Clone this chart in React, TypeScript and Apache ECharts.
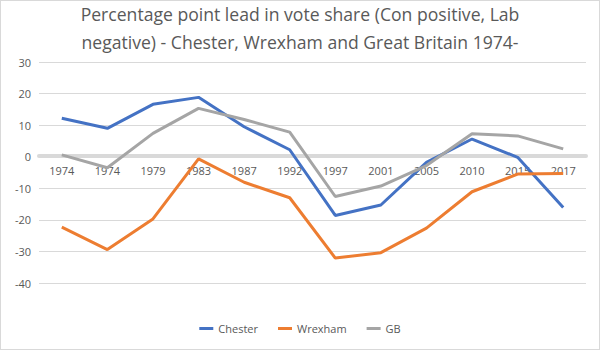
import React, { useEffect, useRef } from "react";
import * as echarts from "echarts";

const years = ["1974", "1974", "1979", "1983", "1987", "1992", "1997", "2001", "2005", "2010", "2015", "2017"];
const chester = [12.2, 9.0, 16.6, 18.8, 9.5, 2.2, -18.6, -15.3, -1.8, 5.6, -0.2, -16.1];
const wrexham = [-22.3, -29.4, -19.7, -0.7, -8.1, -13.0, -32.1, -30.4, -22.6, -11.1, -5.5, -5.3];
const gb = [0.6, -3.5, 7.4, 15.3, 11.8, 7.8, -12.6, -9.3, -2.8, 7.3, 6.6, 2.5];
const seriesNames = ["Chester", "Wrexham", "GB"];
const colors = ["#4472c4", "#ed7d31", "#a5a5a5"];
const titleText = "Percentage point lead in vote share (Con positive, Lab\nnegative) - Chester, Wrexham and Great Britain 1974-";
const yMin = -40;
const yMax = 30;

export default function App() {
  const ref = useRef<HTMLDivElement>(null);
  useEffect(() => {
    document.body.style.margin = "0";
    const chart = echarts.init(ref.current!, null, { renderer: "svg" });
    const font = "'Open Sans', sans-serif";
    const gridTop = 61;
    const gridBottom = 66;
    const plotH = 350 - gridTop - gridBottom;
    const zeroOffset = -(plotH * (0 - yMin)) / (yMax - yMin);
    chart.setOption({
      animation: false,
      backgroundColor: "#ffffff",
      color: colors,
      textStyle: { fontFamily: font },
      title: {
        text: titleText,
        left: "center",
        top: -1,
        padding: 0,
        textStyle: { fontFamily: font, fontSize: 17.6, fontWeight: "normal", color: "#595959", lineHeight: 28 },
      },
      legend: {
        bottom: 10,
        left: "center",
        itemWidth: 14,
        itemHeight: 3,
        itemGap: 20,
        icon: "rect",
        textStyle: { fontFamily: font, fontSize: 11, color: "#595959" },
        data: seriesNames,
      },
      grid: { left: 38, right: 13, top: gridTop, bottom: gridBottom },
      xAxis: {
        type: "category",
        data: years,
        boundaryGap: true,
        position: "bottom",
        offset: zeroOffset,
        z: 0,
        axisLine: { onZero: false, lineStyle: { color: "#d9d9d9", width: 4 } },
        axisTick: { show: false },
        axisLabel: { color: "#595959", fontSize: 11, margin: 9, interval: 0 },
      },
      yAxis: {
        type: "value",
        min: yMin,
        max: yMax,
        interval: 10,
        z: 0,
        axisLine: { show: false },
        axisTick: { show: false },
        axisLabel: { color: "#595959", fontSize: 11, margin: 8 },
        splitLine: { lineStyle: { color: "#d9d9d9", width: 1 } },
      },
      series: [
        { name: seriesNames[0], type: "line", z: 5, data: chester, showSymbol: false, symbol: "none", lineStyle: { width: 3 } },
        { name: seriesNames[1], type: "line", z: 5, data: wrexham, showSymbol: false, symbol: "none", lineStyle: { width: 3 } },
        { name: seriesNames[2], type: "line", z: 5, data: gb, showSymbol: false, symbol: "none", lineStyle: { width: 3 } },
      ],
    });
    return () => chart.dispose();
  }, []);
  return (
    <div
      ref={ref}
      style={{ width: 600, height: 350, boxSizing: "border-box", border: "1px solid #d9d9d9" }}
    />
  );
}
